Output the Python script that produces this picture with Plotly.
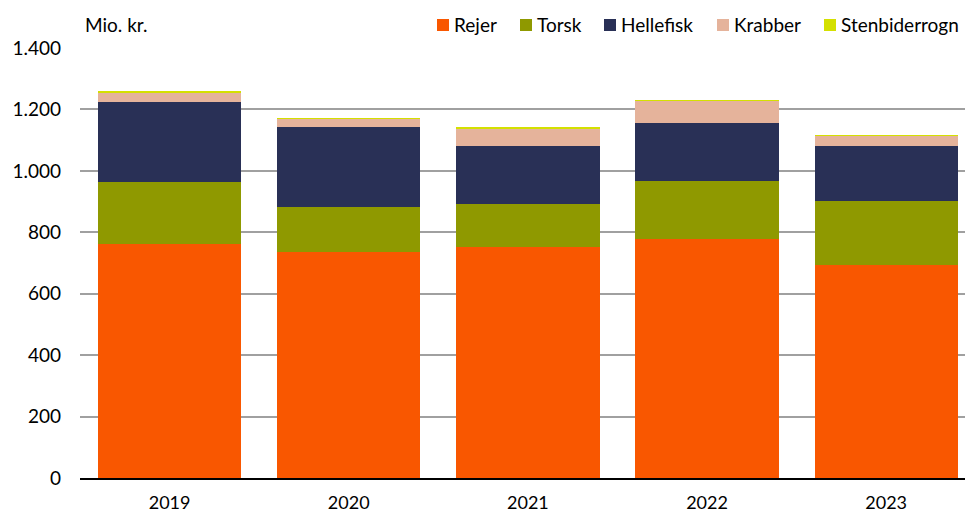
import plotly.graph_objects as go

years = ["2019", "2020", "2021", "2022", "2023"]
rejer = [762, 735, 753, 777, 694]
torsk = [202, 147, 139, 191, 208]
hellefisk = [260, 261, 190, 189, 178]
krabber = [31, 26, 57, 71, 34]
stenbiderrogn = [2, 3, 3, 2, 2]

series_names = ["Rejer", "Torsk", "Hellefisk", "Krabber", "Stenbiderrogn"]
series_values = [rejer, torsk, hellefisk, krabber, stenbiderrogn]
series_colors = ["#f95700", "#8f9900", "#293056", "#e5b39b", "#d4e000"]

W, H = 965, 514
ML, MR, MT, MB = 80, 0, 48, 36
PW, PH = W - ML - MR, H - MT - MB

fig = go.Figure()
for name, vals, col in zip(series_names, series_values, series_colors):
    fig.add_trace(go.Bar(x=years, y=vals, name=name, showlegend=False,
                         marker=dict(color=col, line=dict(width=0))))

font = "Lato, 'Open Sans', sans-serif"
FS = 19

# custom legend (layout only) – left pixel of each swatch
legend_px = [437, 520, 604, 717, 824]
legend_py = 25
shapes = []
annotations = []
def px2x(px):
    return (px - ML) / PW
def py2y(py):
    return (H - MB - py) / PH
for name, col, lx in zip(series_names, series_colors, legend_px):
    shapes.append(dict(type="rect", xref="paper", yref="paper",
                       x0=px2x(lx), x1=px2x(lx + 12),
                       y0=py2y(legend_py + 6), y1=py2y(legend_py - 6),
                       fillcolor=col, line=dict(width=0)))
    annotations.append(dict(text=name, xref="paper", yref="paper",
                            x=px2x(lx + 15), y=py2y(legend_py),
                            xanchor="left", yanchor="middle", showarrow=False,
                            font=dict(size=FS)))
annotations.append(dict(text="Mio. kr.", xref="paper", yref="paper",
                        x=px2x(83), y=py2y(25), xanchor="left", yanchor="middle",
                        showarrow=False, font=dict(size=FS)))

fig.update_layout(
    barmode="stack",
    bargap=0.2,
    width=W, height=H,
    margin=dict(l=ML, r=MR, t=MT, b=MB, autoexpand=False),
    paper_bgcolor="white", plot_bgcolor="white",
    separators=",.",
    showlegend=False,
    font=dict(family=font, size=FS, color="#000"),
    xaxis=dict(type="category", range=[-0.5, 4.44], showgrid=False,
               showline=True, linecolor="#000", linewidth=2, ticks="",
               ticklabelstandoff=7, tickfont=dict(size=18)),
    yaxis=dict(range=[0, 1400], tickvals=[0, 200, 400, 600, 800, 1000, 1200, 1400],
               tickformat=",d", showgrid=True, gridcolor="#a0a0a0", gridwidth=1.5,
               zeroline=False, ticks="", ticklabelstandoff=18,
               tickfont=dict(size=FS)),
    shapes=shapes,
    annotations=annotations,
)

fig.write_html("out.html", config={"displayModeBar": False})
with open("out.html", encoding="utf-8") as f:
    html = f.read()
html = html.replace("<head>", "<head><style>html,body{margin:0;padding:0;overflow:hidden;}</style>", 1)
with open("out.html", "w", encoding="utf-8") as f:
    f.write(html)
